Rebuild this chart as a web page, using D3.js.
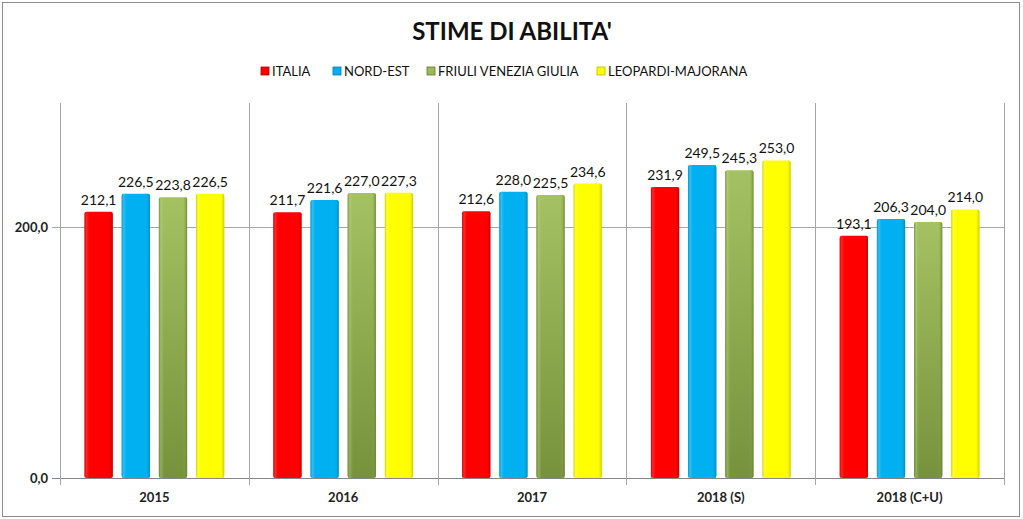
<!DOCTYPE html>
<html><head><meta charset="utf-8">
<script src="https://cdn.jsdelivr.net/npm/d3@7"></script>
<style>body{margin:0;background:#fff;}svg{display:block;font-family:Lato,"Liberation Sans",sans-serif;}</style>
</head><body>
<svg id="c" width="1023" height="519"></svg>
<script>
const categories = ["2015","2016","2017","2018 (S)","2018 (C+U)"];
const seriesNames = ["ITALIA","NORD-EST","FRIULI VENEZIA GIULIA","LEOPARDI-MAJORANA"];
const italia = [212.1,211.7,212.6,231.9,193.1];
const nordEst = [226.5,221.6,228.0,249.5,206.3];
const friuli = [223.8,227.0,225.5,245.3,204.0];
const leopardi = [226.5,227.3,234.6,253.0,214.0];
const yTicks = [0,200];
const colors = ["#ff0000","#00b0f0","#9bbb59","#ffff00"];
const darks = ["#b00000","#0080b0","#5f7a2e","#b8b800"];
const lights = ["#ff6a6a","#7fdcff","#c4d89a","#ffff9a"];

const values = [italia,nordEst,friuli,leopardi];
const svg = d3.select("#c");
const W=1023,H=519;
svg.append("rect").attr("x",2.5).attr("y",2.5).attr("width",W-6).attr("height",H-5).attr("fill","#fff").attr("stroke","#8c8c8c");

const x = d3.scaleBand().domain(categories).range([60,1004]).paddingInner(0).paddingOuter(0);
const y = d3.scaleLinear().domain([0,300]).range([478,101.5]);
const xs = d3.scaleBand().domain(seriesNames).range([0,x.bandwidth()]).paddingInner(0.24).paddingOuter(0.66);

const defs = svg.append("defs");
colors.forEach((c,i)=>{
  const gv = defs.append("linearGradient").attr("id","gv"+i).attr("x1",0).attr("x2",0).attr("y1",0).attr("y2",1);
  if(i===2){
    gv.append("stop").attr("offset","0%").attr("stop-color","#a4c262");
    gv.append("stop").attr("offset","100%").attr("stop-color","#76923c");
  } else {
    gv.append("stop").attr("offset","0%").attr("stop-color",c);
    gv.append("stop").attr("offset","100%").attr("stop-color",c);
  }
  const gh = defs.append("linearGradient").attr("id","gh"+i).attr("x1",0).attr("x2",1).attr("y1",0).attr("y2",0);
  gh.append("stop").attr("offset","0%").attr("stop-color",darks[i]).attr("stop-opacity",0.7);
  gh.append("stop").attr("offset","8%").attr("stop-color",lights[i]).attr("stop-opacity",0.35);
  gh.append("stop").attr("offset","20%").attr("stop-color",c).attr("stop-opacity",0);
  gh.append("stop").attr("offset","85%").attr("stop-color",c).attr("stop-opacity",0);
  gh.append("stop").attr("offset","100%").attr("stop-color",darks[i]).attr("stop-opacity",0.75);
});

// gridlines
svg.append("g").selectAll("line").data(yTicks).join("line")
  .attr("x1",52).attr("x2",1004).attr("y1",d=>Math.round(y(d))+0.5).attr("y2",d=>Math.round(y(d))+0.5)
  .attr("stroke",(d)=>d===0?"#868686":"#a6a6a6").attr("stroke-width",1);
// category separators
const seps = categories.map(c=>x(c)).concat([x.range()[1]]);
svg.append("g").selectAll("line").data(seps).join("line")
  .attr("x1",d=>Math.round(d)+0.5).attr("x2",d=>Math.round(d)+0.5)
  .attr("y1",103).attr("y2",485).attr("stroke","#a6a6a6");

// y labels
svg.append("g").selectAll("text").data(yTicks).join("text")
  .attr("x",48).attr("y",d=>y(d)+5).attr("text-anchor","end")
  .attr("font-size",13).attr("font-weight","bold").attr("fill","#222")
  .text(d=>d3.format(".1f")(d).replace(".",","));

// x labels
svg.append("g").selectAll("text").data(categories).join("text")
  .attr("x",d=>x(d)+x.bandwidth()/2).attr("y",502).attr("text-anchor","middle")
  .attr("font-size",13).attr("font-weight","bold").attr("fill","#222").text(d=>d);

// bars
seriesNames.forEach((s,i)=>{
  const g = svg.append("g");
  const data = categories.map((c,j)=>({c,v:values[i][j]}));
  g.selectAll("rect.b").data(data).join("rect").attr("class","b")
    .attr("x",d=>x(d.c)+xs(s)).attr("width",xs.bandwidth())
    .attr("y",d=>y(d.v)).attr("height",d=>y(0)-y(d.v))
    .attr("rx",2).attr("fill","url(#gv"+i+")");
  g.selectAll("rect.h").data(data).join("rect").attr("class","h")
    .attr("x",d=>x(d.c)+xs(s)).attr("width",xs.bandwidth())
    .attr("y",d=>y(d.v)).attr("height",d=>y(0)-y(d.v))
    .attr("rx",2).attr("fill","url(#gh"+i+")");
  g.selectAll("text").data(data).join("text")
    .attr("x",d=>x(d.c)+xs(s)+xs.bandwidth()/2).attr("y",d=>y(d.v)-7)
    .attr("text-anchor","middle").attr("font-size",14).attr("fill","#111")
    .text(d=>d3.format(".1f")(d.v).replace(".",","));
});

// title
svg.append("text").attr("x",512).attr("y",40).attr("text-anchor","middle")
  .attr("font-size",24).attr("font-weight","bold").attr("fill","#111").text("STIME DI ABILITA'");

// legend
const legX = [261,333,427,597];
const lg = svg.append("g");
seriesNames.forEach((s,i)=>{
  lg.append("rect").attr("x",legX[i]).attr("y",67).attr("width",8).attr("height",8).attr("fill",colors[i]).attr("stroke",darks[i]).attr("stroke-width",0.8);
  lg.append("text").attr("x",legX[i]+11).attr("y",76).attr("font-size",13).attr("fill","#111").text(s);
});
</script>
</body></html>
